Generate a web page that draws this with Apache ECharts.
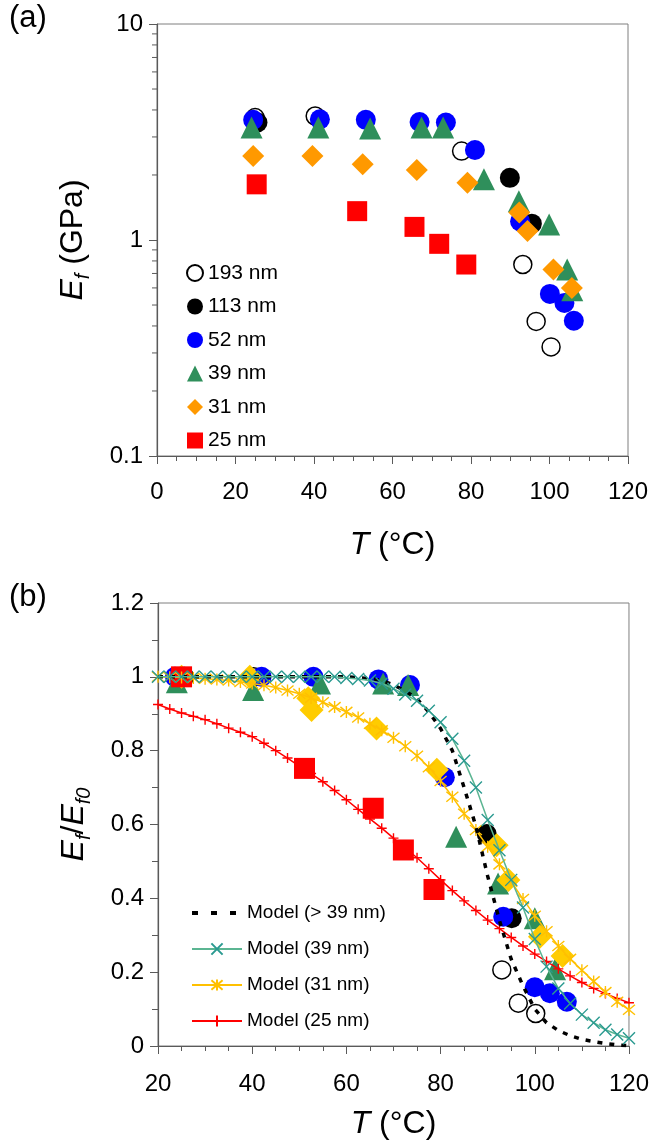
<!DOCTYPE html>
<html>
<head>
<meta charset="utf-8">
<script src="https://cdn.jsdelivr.net/npm/echarts@6/dist/echarts.min.js"></script>
<style>html,body{margin:0;padding:0;background:#fff;}#c{width:652px;height:1146px;}</style>
</head>
<body>
<div id="c"></div>
<script>
// ---------- Panel (a): E_f (GPa) vs T ----------
const tA193 = [25.0, 40.3, 77.6, 93.2, 96.6, 100.4];
const eA193 = [3.69, 3.75, 2.58, 0.77, 0.42, 0.32];
const tA113 = [25.6, 89.9, 95.5];
const eA113 = [3.50, 1.94, 1.19];
const tA52 = [24.5, 41.5, 53.2, 66.9, 73.6, 81.0, 92.5, 100.1, 103.8, 106.2];
const eA52 = [3.60, 3.62, 3.60, 3.52, 3.50, 2.61, 1.22, 0.563, 0.511, 0.423];
const tA39 = [24.1, 41.1, 54.3, 67.4, 72.9, 83.3, 92.2, 99.9, 104.5, 105.8];
const eA39 = [3.32, 3.32, 3.28, 3.32, 3.32, 1.91, 1.51, 1.18, 0.73, 0.585];
const tA31 = [24.5, 39.6, 52.4, 66.2, 79.1, 92.3, 94.4, 101.0, 105.7];
const eA31 = [2.45, 2.45, 2.24, 2.11, 1.84, 1.34, 1.10, 0.73, 0.60];
const tA25 = [25.4, 51.0, 65.6, 71.9, 78.8];
const eA25 = [1.81, 1.36, 1.15, 0.96, 0.77];
const logMinorTicks = [0.2, 0.3, 0.4, 0.5, 0.6, 0.7, 0.8, 0.9, 2, 3, 4, 5, 6, 7, 8, 9];

// ---------- Panel (b): E_f/E_f0 vs T ----------
const tB193 = [25.0, 40.3, 93.0, 96.5, 100.2];
const nB193 = [1.0, 1.0, 0.206, 0.116, 0.088];
const tB113 = [25.6, 89.8, 95.1];
const nB113 = [1.0, 0.574, 0.346];
const tB52 = [23.6, 42.0, 53.0, 66.8, 73.5, 80.9, 93.3, 100.0, 103.2, 106.8];
const nB52 = [1.0, 1.0, 1.0, 0.993, 0.978, 0.728, 0.35, 0.159, 0.143, 0.12];
const tB39 = [24.0, 40.2, 54.4, 67.8, 73.1, 83.3, 92.2, 100.0, 104.3];
const nB39 = [0.985, 0.964, 0.982, 0.982, 0.978, 0.567, 0.44, 0.346, 0.208];
const tB31 = [25.0, 39.5, 51.9, 52.6, 66.4, 79.2, 91.9, 94.4, 101.1, 105.9];
const nB31 = [1.0, 1.0, 0.942, 0.91, 0.86, 0.748, 0.544, 0.45, 0.296, 0.244];
const tB25 = [25.0, 51.1, 65.7, 72.1, 78.6];
const nB25 = [1.0, 0.752, 0.644, 0.531, 0.424];

const tModel = [20, 22.5, 25, 27.5, 30, 32.5, 35, 37.5, 40, 42.5, 45, 47.5, 50, 52.5, 55, 57.5, 60, 62.5, 65, 67.5, 70,
                72.5, 75, 77.5, 80, 82.5, 85, 87.5, 90, 92.5, 95, 97.5, 100, 102.5, 105, 107.5, 110, 112.5, 115, 117.5, 120];
const mBig = [1.0, 1.0, 1.0, 1.0, 1.0, 1.0, 1.0, 1.0, 1.0, 1.0, 1.0, 1.0, 1.0, 1.0, 1.0, 1.0, 1.0, 0.998, 0.995, 0.99, 0.978,
              0.962, 0.94, 0.905, 0.86, 0.80, 0.70, 0.595, 0.46, 0.34, 0.235, 0.163, 0.10, 0.063, 0.042, 0.028, 0.018, 0.012, 0.007, 0.003, 0.001];
const m39 = [1.0, 1.0, 1.0, 1.0, 1.0, 1.0, 1.0, 1.0, 1.0, 1.0, 1.0, 1.0, 1.0, 1.0, 1.0, 1.0, 0.997, 0.994, 0.99, 0.982, 0.968,
             0.952, 0.935, 0.908, 0.877, 0.832, 0.773, 0.70, 0.612, 0.53, 0.45, 0.375, 0.29, 0.215, 0.156, 0.115, 0.085, 0.063, 0.044, 0.031, 0.021];
const m31 = [1.0, 0.999, 0.998, 0.997, 0.995, 0.993, 0.99, 0.986, 0.982, 0.977, 0.971, 0.963, 0.954, 0.943, 0.931, 0.918, 0.905, 0.89, 0.873, 0.855, 0.835,
             0.812, 0.786, 0.755, 0.718, 0.675, 0.629, 0.585, 0.54, 0.492, 0.445, 0.398, 0.353, 0.311, 0.271, 0.236, 0.205, 0.175, 0.146, 0.12, 0.098];
const m25 = [0.925, 0.913, 0.902, 0.893, 0.884, 0.873, 0.861, 0.85, 0.838, 0.82, 0.80, 0.78, 0.758, 0.738, 0.716, 0.692, 0.667, 0.641, 0.615, 0.59, 0.563,
             0.536, 0.51, 0.48, 0.45, 0.421, 0.393, 0.367, 0.341, 0.318, 0.294, 0.271, 0.249, 0.229, 0.209, 0.19, 0.172, 0.156, 0.142, 0.129, 0.117];

const namesA = ['193 nm', '113 nm', '52 nm', '39 nm', '31 nm', '25 nm'];
const namesModel = ['Model (> 39 nm)', 'Model (39 nm)', 'Model (31 nm)', 'Model (25 nm)'];

const F = '"Liberation Sans", Arial, sans-serif';
const AX = '#5a5a5a';
const zip = (a, b) => a.map((v, i) => [v, b[i]]);

const SYM_X = 'path://M0,0L10,10M10,0L0,10';
const SYM_STAR = 'path://M0,0L10,10M10,0L0,10M5,-1L5,11';
const SYM_PLUS = 'path://M5,0L5,10M0,5L10,5';

function scatter(name, data, gi, sym, size, color, extra) {
  return Object.assign({
    type: 'scatter', name: name, xAxisIndex: gi, yAxisIndex: gi, data: data,
    symbol: sym, symbolSize: size, itemStyle: {color: color, opacity: 1}, z: 2
  }, extra || {});
}
const openStyle = {itemStyle: {color: '#ffffff', borderColor: '#000', borderWidth: 1.5, opacity: 1}};

function modelLine(name, data, lineColor, width, dash, sym, symSize, symColor, z) {
  const noSym = sym === 'none';
  return {
    type: 'line', name: name, xAxisIndex: 1, yAxisIndex: 1, data: data,
    symbol: noSym ? 'circle' : sym, symbolSize: symSize, showSymbol: !noSym, z: z,
    lineStyle: {color: lineColor, width: width, type: dash},
    itemStyle: noSym ? {color: 'rgba(0,0,0,0)', borderWidth: 0}
                     : {color: symColor, borderColor: symColor, borderWidth: 1.4}
  };
}

const richY = {
  i: {fontStyle: 'italic', fontSize: 32, fontFamily: F, color: '#000'},
  s: {fontStyle: 'italic', fontSize: 20, fontFamily: F, color: '#000', verticalAlign: 'bottom', padding: [0, 0, -4, 0]},
  n: {fontSize: 32, fontFamily: F, color: '#000'}
};

function xAxisCfg(gi, min, gap, labMargin) {
  return {
    type: 'value', gridIndex: gi, min: min, max: 120, interval: 20,
    name: '{i|T} {n|(°C)}', nameLocation: 'middle', nameGap: gap,
    nameTextStyle: {fontSize: 32, fontFamily: F, color: '#000', rich: richY},
    axisLine: {onZero: false, lineStyle: {color: AX, width: 1.2}},
    axisTick: {show: true, length: 8, lineStyle: {color: AX}},
    minorTick: {show: true, splitNumber: 4, length: 5, lineStyle: {color: AX}},
    axisLabel: {fontSize: 24, fontFamily: F, color: '#000', margin: labMargin},
    splitLine: {show: false}
  };
}

const chart = echarts.init(document.getElementById('c'), null, {renderer: 'canvas'});
chart.setOption({
  animation: false,
  backgroundColor: '#fff',
  grid: [
    {left: 157, right: 24, top: 24, height: 432, show: true, borderColor: '#7f7f7f', borderWidth: 1},
    {left: 158, right: 23, top: 603, height: 443, show: true, borderColor: '#7f7f7f', borderWidth: 1}
  ],
  xAxis: [xAxisCfg(0, 0, 73, 24), xAxisCfg(1, 20, 62, 26)],
  yAxis: [
    {
      type: 'log', logBase: 10, gridIndex: 0, min: 0.1, max: 10,
      name: '{i|E}{s|f} (GPa)', nameLocation: 'middle', nameGap: 68, nameRotate: 90,
      nameTextStyle: {fontSize: 32, fontFamily: F, color: '#000', rich: richY},
      axisLine: {lineStyle: {color: AX, width: 1.2}},
      axisTick: {show: true, length: 8, lineStyle: {color: AX}},
      axisLabel: {fontSize: 24, fontFamily: F, color: '#000', margin: 14},
      splitLine: {show: false}
    },
    {
      type: 'value', gridIndex: 1, min: 0, max: 1.2, interval: 0.2,
      name: '{i|E}{s|f}/{i|E}{s|f0}', nameLocation: 'middle', nameGap: 68, nameRotate: 90,
      nameTextStyle: {fontSize: 32, fontFamily: F, color: '#000', rich: richY},
      axisLine: {lineStyle: {color: AX, width: 1.2}},
      axisTick: {show: true, length: 8, lineStyle: {color: AX}},
      minorTick: {show: true, splitNumber: 2, length: 6, lineStyle: {color: AX}},
      axisLabel: {fontSize: 24, fontFamily: F, color: '#000', margin: 14},
      splitLine: {show: false}
    }
  ],
  legend: [
    {
      orient: 'vertical', left: 181, top: 257, itemWidth: 16, itemHeight: 16, itemGap: 11.5,
      selectedMode: false, data: namesA,
      textStyle: {fontSize: 21, fontFamily: F, color: '#000', lineHeight: 22}
    },
    {
      orient: 'vertical', left: 185, top: 898, itemWidth: 50, itemHeight: 14, itemGap: 16,
      selectedMode: false,
      data: [
        {name: namesModel[0], lineStyle: {width: 4, type: [6, 13], color: '#000'}},
        namesModel[1], namesModel[2], namesModel[3]
      ],
      textStyle: {fontSize: 19, fontFamily: F, color: '#000', lineHeight: 20}
    }
  ],
  graphic: [
    {type: 'text', left: 9, top: 3, style: {text: '(a)', fontSize: 31, fontFamily: F, fill: '#000'}},
    {type: 'text', left: 9, top: 582, style: {text: '(b)', fontSize: 31, fontFamily: F, fill: '#000'}}
  ],
  series: [
    // panel (a)
    scatter(namesA[0], zip(tA193, eA193), 0, 'circle', 18, '#fff', openStyle),
    scatter(namesA[1], zip(tA113, eA113), 0, 'circle', 20, '#000000'),
    scatter(namesA[2], zip(tA52, eA52), 0, 'circle', 20, '#0000ff'),
    scatter(namesA[3], zip(tA39, eA39), 0, 'triangle', 22, '#2f8f5b'),
    scatter(namesA[4], zip(tA31, eA31), 0, 'diamond', 22, '#ff9900'),
    scatter(namesA[5], zip(tA25, eA25), 0, 'rect', 20, '#ff0000'),
    {
      type: 'custom', xAxisIndex: 0, yAxisIndex: 0, silent: true, clip: false, z: 5,
      data: logMinorTicks.map(v => [0, v]),
      renderItem: function (params, api) {
        const p = api.coord([api.value(0), api.value(1)]);
        return {type: 'line', shape: {x1: p[0] - 5, y1: p[1], x2: p[0], y2: p[1]},
                style: {stroke: AX, lineWidth: 1}};
      }
    },
    // panel (b) data
    scatter(namesA[0], zip(tB193, nB193), 1, 'circle', 18, '#fff', openStyle),
    scatter(namesA[1], zip(tB113, nB113), 1, 'circle', 20, '#000000'),
    scatter(namesA[2], zip(tB52, nB52), 1, 'circle', 20, '#0000ff'),
    scatter(namesA[3], zip(tB39, nB39), 1, 'triangle', 22, '#2f8f5b'),
    scatter(namesA[4], zip(tB31, nB31), 1, 'diamond', 24, '#ffcc00'),
    scatter(namesA[5], zip(tB25, nB25), 1, 'rect', 21, '#ff0000'),
    // panel (b) models
    modelLine(namesModel[3], zip(tModel, m25), '#ff0000', 1.5, 'solid', SYM_PLUS, 10, '#ff0000', 4),
    modelLine(namesModel[2], zip(tModel, m31), '#ffc000', 1.5, 'solid', SYM_STAR, 12, '#ffc000', 5),
    modelLine(namesModel[0], zip(tModel, mBig), '#000000', 3.5, [5, 7], 'none', 0, '#000000', 6),
    modelLine(namesModel[1], zip(tModel, m39), '#5bb592', 1.5, 'solid', SYM_X, 12, '#2a9a90', 7)
  ]
});
</script>
</body>
</html>
